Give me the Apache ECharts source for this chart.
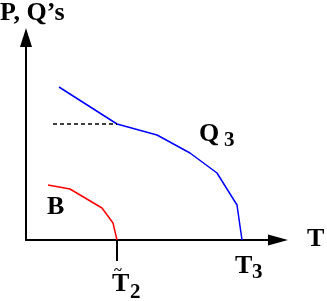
<!DOCTYPE html>
<html><head><meta charset="utf-8">
<script src="https://cdn.jsdelivr.net/npm/echarts@6/dist/echarts.min.js"></script>
<style>html,body{margin:0;padding:0;background:#fff}#c{width:327px;height:301px}</style>
</head><body><div id="c"></div>
<script>
// Q3 curve (blue)
var q3X = [33, 91, 131, 164, 191, 211, 216];
var q3Y = [153, 116, 105, 87, 67, 35, 0];
// B curve (red)
var bX = [22, 44, 76, 87, 91];
var bY = [55, 51, 32, 17, 0];
// dashed reference level
var dashX = [27, 91];
var dashY = [116, 116];
// tick below T~2
var tickX = [91, 91];
var tickY = [0, -21];

function pairs(xs, ys){ return xs.map(function(x,i){ return [x, ys[i]]; }); }

var F = 'bold 26px "Liberation Serif", "DejaVu Serif", serif';
var FS = 'bold 21px "Liberation Serif", "DejaVu Serif", serif';
function txt(x, y, t, font){
  return {type:'text', style:{x:x, y:y, text:t, font:font, fill:'#000'}};
}

var chart = echarts.init(document.getElementById('c'), null, {renderer:'canvas'});
chart.setOption({
  animation:false,
  backgroundColor:'#fff',
  grid:{left:26, right:58, top:46, bottom:61, containLabel:false},
  xAxis:{type:'value', min:0, max:243, splitLine:{show:false}, axisTick:{show:false}, axisLabel:{show:false},
    axisLine:{show:true, lineStyle:{color:'#000', width:2}}},
  yAxis:{type:'value', min:0, max:194, splitLine:{show:false}, axisTick:{show:false}, axisLabel:{show:false},
    axisLine:{show:true, lineStyle:{color:'#000', width:2}}},
  series:[
    {type:'line', data:pairs(q3X,q3Y), symbol:'none', lineStyle:{color:'#0000ff', width:1.5}},
    {type:'line', data:pairs(bX,bY), symbol:'none', lineStyle:{color:'#ff0000', width:1.5}},
    {type:'line', data:pairs(dashX,dashY), symbol:'none', lineStyle:{color:'#000', width:1.3, type:[4,3]}},
    {type:'line', data:pairs(tickX,tickY), symbol:'none', clip:false, lineStyle:{color:'#000', width:2}}
  ],
  graphic:[
    {type:'polygon', shape:{points:[[26,28],[32,47],[20,47]]}, style:{fill:'#000'}},
    {type:'polygon', shape:{points:[[288,240],[268,234.5],[268,245.5]]}, style:{fill:'#000'}},
    txt(0, 0.5, 'P, Q\u2019s', F),
    txt(307, 226.5, 'T', F),
    txt(199, 121.5, 'Q', F),
    txt(224, 130, '3', FS),
    txt(47, 194.5, 'B', F),
    txt(112, 271.5, 'T', F),
    {type:'text', style:{x:118, y:263.5, text:'~', font:'bold 15px "Liberation Serif", serif', fill:'#000', align:'center'}},
    txt(130, 282, '2', FS),
    txt(235, 253.5, 'T', F),
    txt(252, 262, '3', FS)
  ]
});
</script></body></html>
